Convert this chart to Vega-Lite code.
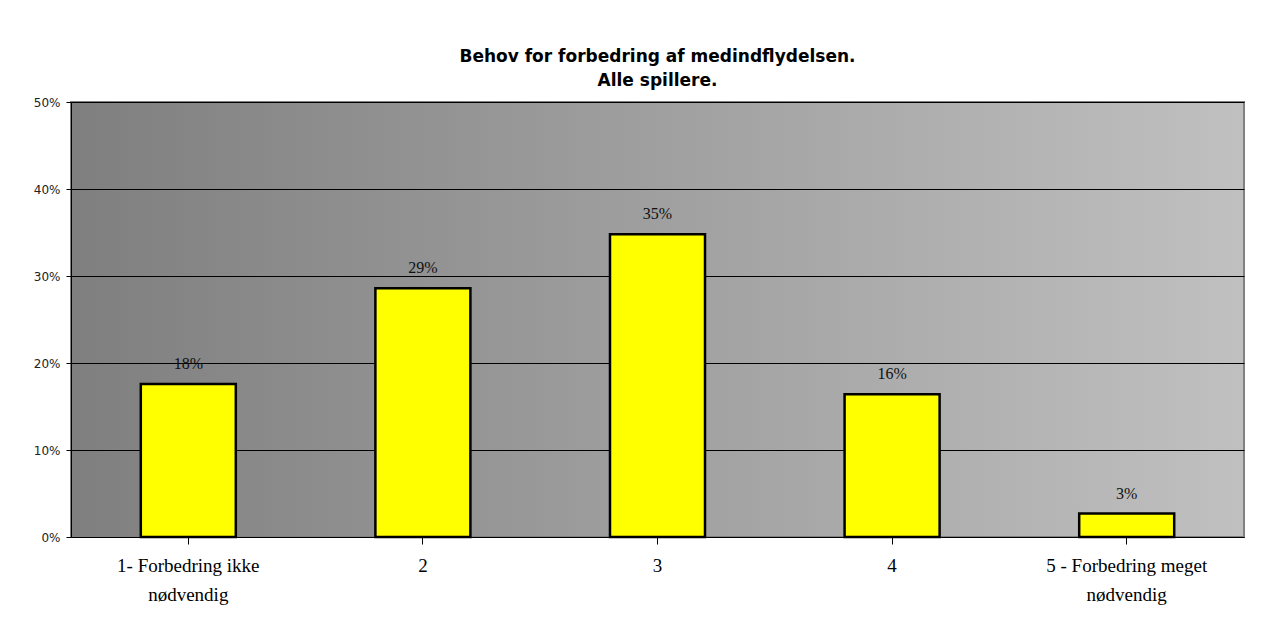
{
  "$schema": "https://vega.github.io/schema/vega-lite/v6.json",
  "width": 1173,
  "height": 435,
  "autosize": {"type": "none"},
  "padding": {"left": 71, "top": 102, "right": 36, "bottom": 86},
  "background": "white",
  "title": {
    "text": ["Behov for forbedring af medindflydelsen.", "Alle spillere."],
    "font": "DejaVu Sans",
    "fontSize": 17,
    "fontWeight": "bold",
    "color": "black",
    "anchor": "middle",
    "offset": 6,
    "lineHeight": 24
  },
  "data": {
    "values": [
      {"kategori": "1- Forbedring ikke nødvendig", "andel": 0.176},
      {"kategori": "2", "andel": 0.286},
      {"kategori": "3", "andel": 0.348},
      {"kategori": "4", "andel": 0.164},
      {"kategori": "5 - Forbedring meget nødvendig", "andel": 0.027}
    ]
  },
  "config": {
    "view": {
      "stroke": "#808080",
      "strokeWidth": 2,
      "fill": {
        "gradient": "linear",
        "x1": 0, "y1": 0, "x2": 1, "y2": 0,
        "stops": [
          {"offset": 0, "color": "#7f7f7f"},
          {"offset": 1, "color": "#c0c0c0"}
        ]
      }
    }
  },
  "encoding": {
    "x": {
      "field": "kategori",
      "type": "nominal",
      "sort": null,
      "scale": {"paddingInner": 0, "paddingOuter": 0},
      "axis": {
        "title": null,
        "labelAngle": 0,
        "labelFont": "Liberation Serif",
        "labelFontSize": 19,
        "labelColor": "black",
        "labelPadding": 12,
        "labelLimit": 400,
        "labelLineHeight": 29,
        "labelExpr": "datum.value == '1- Forbedring ikke nødvendig' ? ['1- Forbedring ikke', 'nødvendig'] : datum.value == '5 - Forbedring meget nødvendig' ? ['5 - Forbedring meget', 'nødvendig'] : datum.value",
        "tickColor": "black",
        "tickSize": 7,
        "domainColor": "black",
        "grid": false
      }
    },
    "y": {
      "field": "andel",
      "type": "quantitative",
      "scale": {"domain": [0, 0.5], "nice": false},
      "axis": {
        "title": null,
        "format": ".0%",
        "values": [0, 0.1, 0.2, 0.3, 0.4, 0.5],
        "labelFont": "DejaVu Sans",
        "labelFontSize": 12,
        "labelColor": "#222222",
        "labelPadding": 6,
        "tickColor": "black",
        "tickSize": 5,
        "domainColor": "black",
        "grid": true,
        "gridColor": "black",
        "gridOpacity": 1
      }
    }
  },
  "layer": [
    {
      "mark": {"type": "bar", "color": "#ffff00", "stroke": "black", "strokeWidth": 2.5, "width": {"band": 0.405}}
    },
    {
      "mark": {"type": "text", "baseline": "alphabetic", "dy": -15, "font": "Liberation Serif", "fontSize": 16, "color": "#111111"},
      "encoding": {"text": {"field": "andel", "type": "quantitative", "format": ".0%"}}
    }
  ]
}
